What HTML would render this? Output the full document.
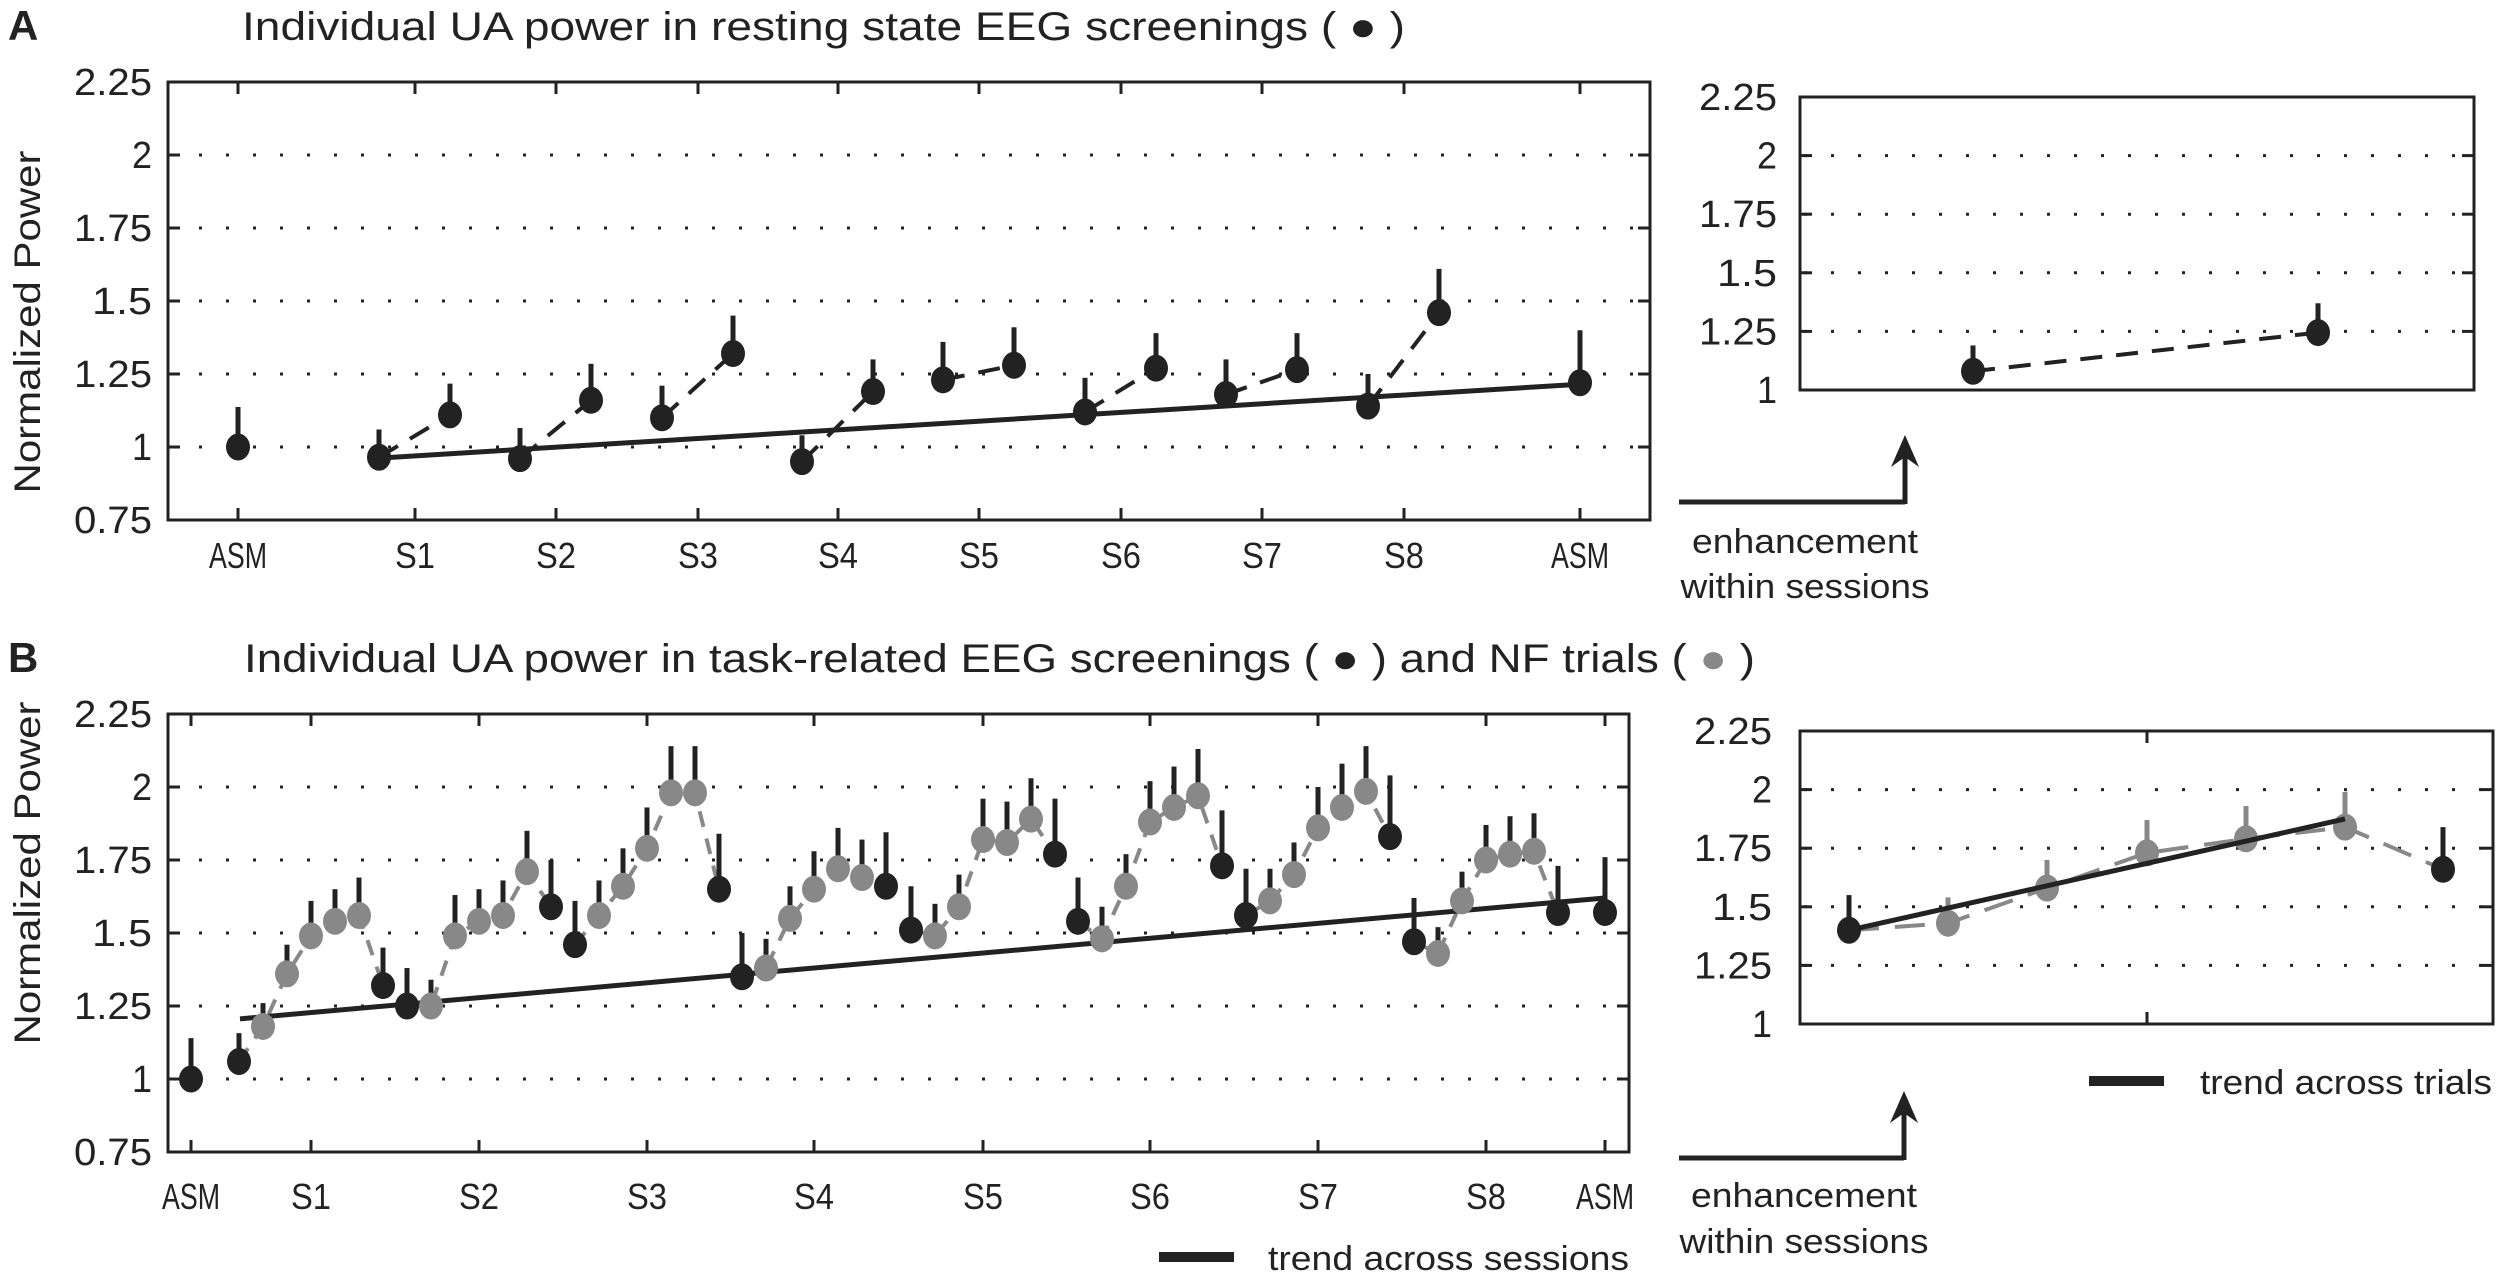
<!DOCTYPE html>
<html><head><meta charset="utf-8"><style>
html,body{margin:0;padding:0;background:#fff;}
svg{display:block;}
text{font-family:"Liberation Sans",sans-serif;fill:#222;}
</style></head><body>
<svg id="s" width="2500" height="1276" viewBox="0 0 2500 1276" xmlns="http://www.w3.org/2000/svg">
<rect width="2500" height="1276" fill="#fff"/>
<g id="g"></g>
<text x="8" y="40" font-size="42" font-weight="bold">A</text>
<text x="242" y="40" font-size="40" textLength="1163" lengthAdjust="spacingAndGlyphs">Individual UA power in resting state EEG screenings ( <tspan fill="#222">●</tspan> )</text>
<text x="8" y="672" font-size="42" font-weight="bold">B</text>
<text x="244" y="672" font-size="40" textLength="1511" lengthAdjust="spacingAndGlyphs">Individual UA power in task-related EEG screenings ( <tspan fill="#222">●</tspan> ) and NF trials ( <tspan fill="#888">●</tspan> )</text>
<text transform="translate(40,322) rotate(-90)" font-size="37" text-anchor="middle" textLength="343" lengthAdjust="spacingAndGlyphs">Normalized Power</text>
<text transform="translate(40,873) rotate(-90)" font-size="37" text-anchor="middle" textLength="343" lengthAdjust="spacingAndGlyphs">Normalized Power</text>
<text x="1805" y="553" font-size="34" text-anchor="middle" textLength="226" lengthAdjust="spacingAndGlyphs">enhancement</text>
<text x="1805" y="598" font-size="34" text-anchor="middle" textLength="249" lengthAdjust="spacingAndGlyphs">within sessions</text>
<text x="1804" y="1207" font-size="34" text-anchor="middle" textLength="226" lengthAdjust="spacingAndGlyphs">enhancement</text>
<text x="1804" y="1253" font-size="34" text-anchor="middle" textLength="249" lengthAdjust="spacingAndGlyphs">within sessions</text>
<text x="1268" y="1270" font-size="34" textLength="361" lengthAdjust="spacingAndGlyphs">trend across sessions</text>
<text x="2200" y="1094" font-size="34" textLength="292" lengthAdjust="spacingAndGlyphs">trend across trials</text>
<g id="t"></g>
</svg>
<script>
var NS="http://www.w3.org/2000/svg",G=document.getElementById('g'),T=document.getElementById('t');
function el(n,a,p){var e=document.createElementNS(NS,n);for(var k in a)e.setAttribute(k,a[k]);(p||G).appendChild(e);return e;}
function line(x1,y1,x2,y2,st,w,da){var a={x1:x1,y1:y1,x2:x2,y2:y2,stroke:st,'stroke-width':w};if(da)a['stroke-dasharray']=da;return el('line',a);}
function txt(x,y,s,anchor,len,fs){var e=el('text',{x:x,y:y,'font-size':fs||38,'text-anchor':anchor},T);if(len){e.setAttribute('textLength',len);e.setAttribute('lengthAdjust','spacingAndGlyphs');}e.textContent=s;}
var K='#222',GR='#888';
function lenNum(s){return s.length==1?20:s.length==3?60:78;}
function frame(x0,x1,y0,y1,vals,yf,xt,labR){
  vals.forEach(function(v){var y=yf(v);
    if(Math.abs(y-y0)>2&&Math.abs(y-y1)>2){line(x0+4,y,x1-4,y,K,3,'3 24');}
    line(x0,y,x0+12,y,K,3);line(x1-12,y,x1,y,K,3);
    txt(labR,y+13,String(v),'end',lenNum(String(v)),38);
  });
  xt.forEach(function(x){line(x,y0,x,y0+12,K,3);line(x,y1-12,x,y1,K,3);});
  el('rect',{x:x0,y:y0,width:x1-x0,height:y1-y0,fill:'none',stroke:K,'stroke-width':3});
}
var yA=function(v){return 520-(v-0.75)*292;},yB=function(v){return 1152-(v-0.75)*292;},
    yAR=function(v){return 390-(v-1)*234.4;},yBR=function(v){return 1024-(v-1)*234.4;};
var vL=[2.25,2,1.75,1.5,1.25,1,0.75],vR=[2.25,2,1.75,1.5,1.25,1];
var tA=[415,556,698,838,979,1121,1262,1404];
frame(168,1650,82,520,vL,yA,[238].concat(tA,[1580]),152);
frame(1800,2474,97,390,vR,yAR,[],1777);
var tB=[311,479,647,814,983,1150,1318,1486];
frame(168,1629,714,1152,vL,yB,[191].concat(tB,[1605]),152);
frame(1800,2493,731,1024,vR,yBR,[2147],1772);
txt(238,568,'ASM','middle',58,36);tA.forEach(function(x,i){txt(x,568,'S'+(i+1),'middle',40,36);});txt(1580,568,'ASM','middle',58,36);
txt(191,1209,'ASM','middle',58,36);tB.forEach(function(x,i){txt(x,1209,'S'+(i+1),'middle',40,36);});txt(1605,1209,'ASM','middle',58,36);
function pt(x,y,yt,col,bcol){line(x,yt,x,y,bcol||col,5);el('ellipse',{cx:x,cy:y,rx:12,ry:13.5,fill:col});}
line(379,yA(0.962),1580,yA(1.215),K,5);
var pA=[[0.965,1.06,1.11,1.217],[0.96,1.065,1.16,1.285],[1.10,1.21,1.32,1.45],[0.95,1.04,1.19,1.30],[1.23,1.36,1.28,1.41],[1.12,1.237,1.27,1.39],[1.18,1.30,1.265,1.39],[1.14,1.25,1.46,1.61]];
pA.forEach(function(p,i){var xa=tA[i]-36,xb=tA[i]+35;line(xa,yA(p[0]),xb,yA(p[2]),K,4,'22 14');});
pt(238,yA(1.0),yA(1.137),K);pt(1580,yA(1.22),yA(1.40),K);
pA.forEach(function(p,i){var xa=tA[i]-36,xb=tA[i]+35;pt(xa,yA(p[0]),yA(p[1]),K);pt(xb,yA(p[2]),yA(p[3]),K);});
line(1973,yAR(1.08),2318,yAR(1.245),K,4,'22 14');
pt(1973,yAR(1.08),yAR(1.19),K);pt(2318,yAR(1.245),yAR(1.37),K);
function arrow(x0,x1,y,tip){line(x0,y,x1,y,K,5);line(x1,y+2,x1,tip+20,K,5);el('path',{d:'M'+(x1-14)+' '+(tip+32)+' L'+x1+' '+tip+' L'+(x1+14)+' '+(tip+32)+' L'+x1+' '+(tip+22)+' Z',fill:K});}
arrow(1679,1905,502,435);arrow(1679,1904,1158,1091);
var pB=[
[[1.06,1.157],[1.18,1.26],[1.36,1.46],[1.49,1.61],[1.54,1.65],[1.56,1.69],[1.32,1.45]],
[[1.25,1.38],[1.25,1.34],[1.49,1.63],[1.54,1.65],[1.56,1.68],[1.71,1.85],[1.59,1.75]],
[[1.46,1.61],[1.56,1.68],[1.66,1.79],[1.79,1.93],[1.98,2.14],[1.98,2.14],[1.65,1.84]],
[[1.35,1.50],[1.38,1.48],[1.55,1.66],[1.65,1.78],[1.72,1.86],[1.69,1.82],[1.66,1.845]],
[[1.51,1.66],[1.49,1.60],[1.59,1.70],[1.82,1.96],[1.81,1.95],[1.89,2.03],[1.77,1.96]],
[[1.54,1.69],[1.48,1.59],[1.66,1.77],[1.88,2.02],[1.93,2.07],[1.97,2.13],[1.73,1.92]],
[[1.56,1.72],[1.61,1.72],[1.70,1.81],[1.86,2.0],[1.93,2.08],[1.985,2.14],[1.83,2.04]],
[[1.47,1.62],[1.43,1.52],[1.61,1.71],[1.75,1.87],[1.77,1.90],[1.78,1.91],[1.57,1.73]]];
pB.forEach(function(s,i){var pts=s.map(function(p,j){return (tB[i]+(j-3)*24)+','+yB(p[0]);}).join(' ');
  el('polyline',{points:pts,fill:'none',stroke:GR,'stroke-width':4,'stroke-dasharray':'16 12'});});
line(240,yB(1.206),1605,yB(1.62),K,5);
pt(191,yB(1.0),yB(1.14),K);pt(1605,yB(1.57),yB(1.76),K);
pB.forEach(function(s,i){s.forEach(function(p,j){var x=tB[i]+(j-3)*24;var blk=(j==0||j==6);pt(x,yB(p[0]),yB(p[1]),blk?K:GR,K);});});
var xr=[1849,1948,2047,2147,2246,2345,2443],vr=[[1.40,1.55],[1.43,1.54],[1.58,1.70],[1.73,1.87],[1.79,1.93],[1.84,1.99],[1.66,1.84]];
el('polyline',{points:xr.map(function(x,i){return x+','+yBR(vr[i][0]);}).join(' '),fill:'none',stroke:GR,'stroke-width':4,'stroke-dasharray':'30 16'});
xr.forEach(function(x,i){var blk=(i==0||i==6);line(x,yBR(vr[i][1]),x,yBR(vr[i][0]),blk?K:GR,5);});
xr.forEach(function(x,i){var blk=(i==0||i==6);el('ellipse',{cx:x,cy:yBR(vr[i][0]),rx:12,ry:13.5,fill:blk?K:GR});});
line(1849,yBR(1.40),2345,yBR(1.875),K,5);
el('rect',{x:1159,y:1252,width:75,height:10,fill:K});
el('rect',{x:2089,y:1076,width:75,height:10,fill:K});
</script>
</body></html>
